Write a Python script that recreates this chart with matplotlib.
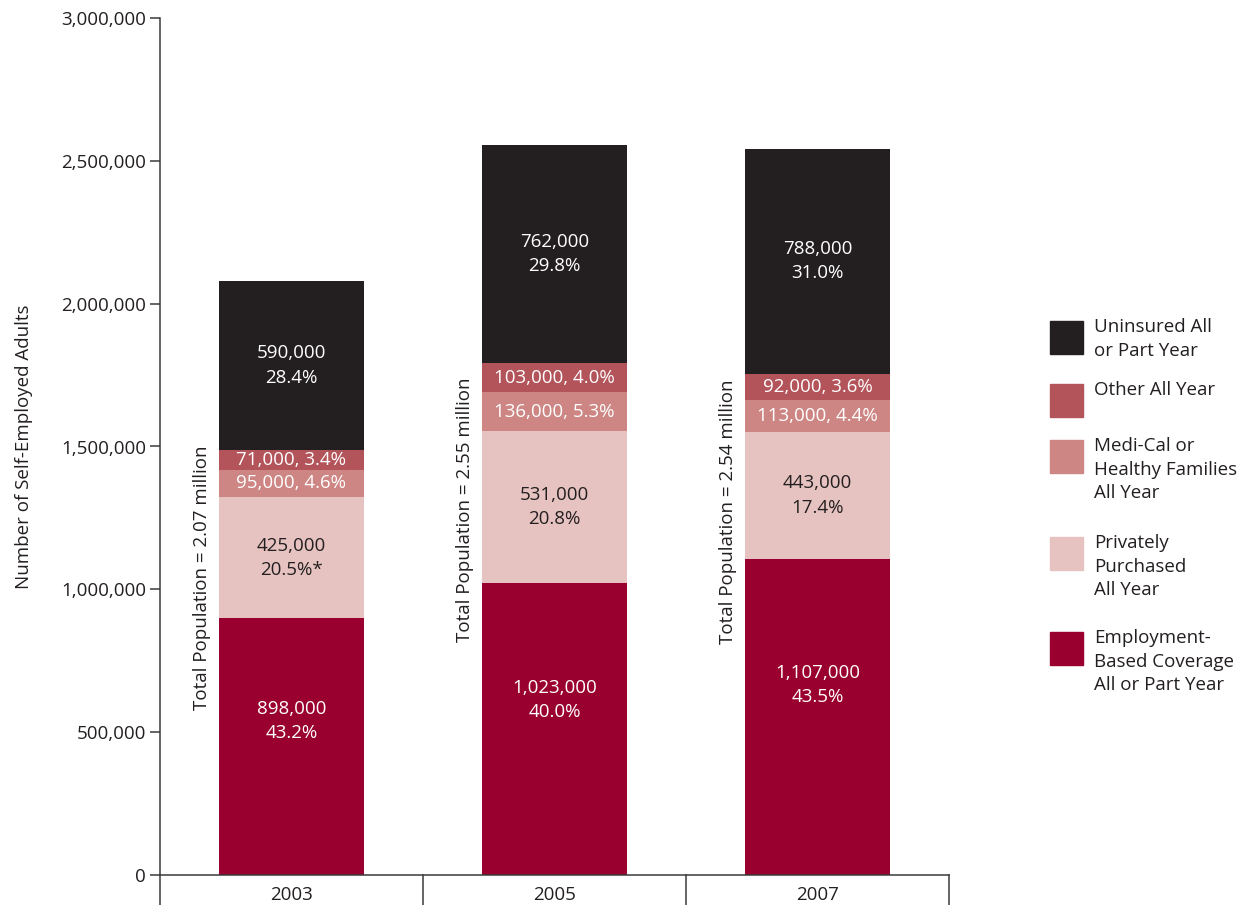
import matplotlib.pyplot as plt
import matplotlib.transforms as mtransforms
from matplotlib.patches import Rectangle

plt.rcParams['font.family'] = ['Open Sans', 'DejaVu Sans']

# Self-employed adults by coverage type
years = ['2003', '2005', '2007']
employment = [898000, 1023000, 1107000]
private = [425000, 531000, 443000]
medical = [95000, 136000, 113000]
other = [71000, 103000, 92000]
uninsured = [590000, 762000, 788000]

employment_pct = ['43.2%', '40.0%', '43.5%']
private_pct = ['20.5%*', '20.8%', '17.4%']
medical_pct = ['4.6%', '5.3%', '4.4%']
other_pct = ['3.4%', '4.0%', '3.6%']
uninsured_pct = ['28.4%', '29.8%', '31.0%']

totals = ['2.07', '2.55', '2.54']

legend_labels = ['Uninsured All\nor Part Year', 'Other All Year',
                 'Medi-Cal or\nHealthy Families\nAll Year',
                 'Privately\nPurchased\nAll Year',
                 'Employment-\nBased Coverage\nAll or Part Year']

c_emp = '#990030'
c_priv = '#e6c3c0'
c_med = '#cd8683'
c_oth = '#b3535a'
c_unins = '#231f20'
txt = '#231f20'
axis_col = '#3a3a3a'
fs = 13.5

fig = plt.figure(figsize=(12.43, 9.05), dpi=100)
ax = fig.add_axes([160 / 1243, 1 - 875 / 905, 789 / 1243, 857 / 905])

x = [0.5, 1.5, 2.5]
w = 0.548

series = [(employment, employment_pct, c_emp, 'white', 2),
          (private, private_pct, c_priv, txt, 2),
          (medical, medical_pct, c_med, 'white', 1),
          (other, other_pct, c_oth, 'white', 1),
          (uninsured, uninsured_pct, c_unins, 'white', 2)]

bottoms = [0, 0, 0]
for vals, pcts, col, tcol, lines in series:
    ax.bar(x, vals, width=w, bottom=bottoms, color=col, linewidth=0)
    for i in range(3):
        if lines == 2:
            label = f'{vals[i]:,}\n{pcts[i]}'
            frac = 0.6 if vals is employment else 0.5
        else:
            label = f'{vals[i]:,}, {pcts[i]}'
            frac = 0.5
        ax.text(x[i], bottoms[i] + vals[i] * frac, label, ha='center',
                va='center', color=tcol, fontsize=fs, linespacing=1.45)
    bottoms = [b + v for b, v in zip(bottoms, vals)]

# rotated total labels beside each bar
for i in range(3):
    ax.text(x[i] - w / 2 - 0.065, bottoms[i] / 2,
            f'Total Population = {totals[i]} million', rotation=90,
            ha='center', va='center', color=txt, fontsize=fs)

ax.set_xlim(0, 3)
ax.set_ylim(0, 3000000)
ax.set_yticks(range(0, 3000001, 500000))
ax.set_yticklabels([f'{v:,}' for v in range(0, 3000001, 500000)])
ax.tick_params(axis='y', length=7, width=1.1, color=axis_col,
               labelsize=fs, labelcolor=txt, pad=3)
ax.set_xticks(x)
ax.set_xticklabels(years)
ax.tick_params(axis='x', length=0, labelsize=fs, labelcolor=txt, pad=8)
ax.set_ylabel('Number of Self-Employed Adults', fontsize=fs, color=txt,
              labelpad=20)

for s in ['top', 'right']:
    ax.spines[s].set_visible(False)
for s in ['left', 'bottom']:
    ax.spines[s].set_color(axis_col)
    ax.spines[s].set_linewidth(1.1)

# category dividers below the axis
trans = mtransforms.blended_transform_factory(ax.transData, ax.transAxes)
for xd in [0, 1, 2, 3]:
    ax.plot([xd, xd], [0, -0.036], transform=trans, color=axis_col,
            linewidth=1.1, clip_on=False)

# legend
legend_cols = [c_unins, c_oth, c_med, c_priv, c_emp]
legend_tops = [321, 384, 440, 537, 632]
for col, top, lab in zip(legend_cols, legend_tops, legend_labels):
    fig.add_artist(Rectangle((1050 / 1243, 1 - (top + 33) / 905),
                             33 / 1243, 33 / 905, color=col,
                             transform=fig.transFigure))
    fig.text(1094 / 1243, 1 - (top - 3) / 905, lab, ha='left', va='top',
             color=txt, fontsize=fs, linespacing=1.4)

fig.savefig('out.png', dpi=100)
